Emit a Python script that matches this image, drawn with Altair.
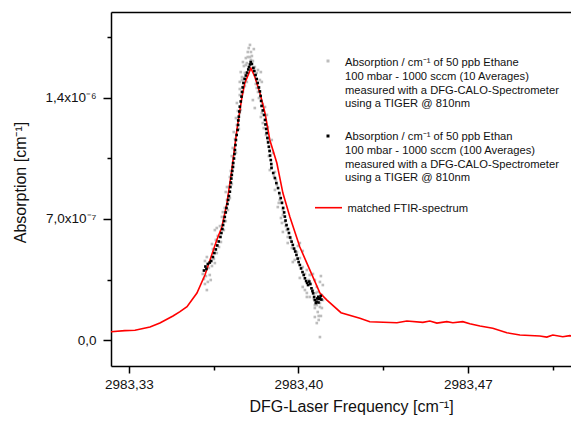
import altair as alt
import pandas as pd

# ---------------- data ----------------
# matched FTIR spectrum: frequency [cm-1], absorption in units of 1e-7 cm-1
ftir_x = [2983.3226, 2983.3283, 2983.3325, 2983.3387, 2983.3428, 2983.3482, 2983.3511, 2983.3540,
          2983.3560, 2983.3581, 2983.3614, 2983.3635, 2983.3663, 2983.3684, 2983.3705, 2983.3725,
          2983.3746, 2983.3767, 2983.3779, 2983.3804, 2983.3820, 2983.3841, 2983.3862, 2983.3882,
          2983.3911, 2983.3936, 2983.3965, 2983.4006, 2983.4035, 2983.4089, 2983.4118, 2983.4176,
          2983.4254, 2983.4295, 2983.4407, 2983.4448, 2983.4514, 2983.4543, 2983.4572, 2983.4613,
          2983.4638, 2983.4679, 2983.4708, 2983.4750, 2983.4803, 2983.4861, 2983.4915, 2983.4997,
          2983.5026, 2983.5051, 2983.5092, 2983.5121, 2983.5163, 2983.5191]
ftir_y_e7 = [0.48, 0.54, 0.56, 0.75, 0.98, 1.39, 1.64, 1.93, 2.31, 2.72, 3.76, 4.63, 5.79, 6.54,
             7.93, 9.84, 12.15, 14.06, 14.87, 15.72, 15.23, 14.29, 13.13, 11.57, 10.24, 8.50,
             7.12, 5.38, 4.45, 2.72, 2.31, 1.58, 1.26, 1.06, 1.00, 1.10, 1.02, 1.10, 0.98, 1.06,
             1.00, 1.06, 0.94, 0.81, 0.68, 0.42, 0.29, 0.23, 0.17, 0.29, 0.19, 0.25, 0.13, 0.16]

# 10 averages (grey)
avg10_x = [2983.3605, 2983.3610, 2983.3614, 2983.3618, 2983.3622, 2983.3626, 2983.3614, 2983.3622,
           2983.3630, 2983.3634, 2983.3638, 2983.3643, 2983.3647, 2983.3651, 2983.3643, 2983.3655,
           2983.3659, 2983.3663, 2983.3667, 2983.3672, 2983.3655, 2983.3663, 2983.3680, 2983.3676,
           2983.3684, 2983.3692, 2983.3688, 2983.3696, 2983.3700, 2983.3705, 2983.3709, 2983.3700,
           2983.3705, 2983.3713, 2983.3717, 2983.3717, 2983.3721, 2983.3725, 2983.3729, 2983.3725,
           2983.3733, 2983.3729, 2983.3738, 2983.3742, 2983.3733, 2983.3746, 2983.3750, 2983.3742,
           2983.3750, 2983.3754, 2983.3758, 2983.3746, 2983.3758, 2983.3758, 2983.3767, 2983.3762,
           2983.3771, 2983.3767, 2983.3758, 2983.3767, 2983.3762, 2983.3771, 2983.3779, 2983.3775,
           2983.3771, 2983.3779, 2983.3787, 2983.3783, 2983.3791, 2983.3791, 2983.3795, 2983.3800,
           2983.3804, 2983.3808, 2983.3804, 2983.3791, 2983.3800, 2983.3812, 2983.3787, 2983.3816,
           2983.3820, 2983.3828, 2983.3833, 2983.3845, 2983.3841, 2983.3849, 2983.3824, 2983.3812,
           2983.3820, 2983.3833, 2983.3849, 2983.3845, 2983.3853, 2983.3862, 2983.3870, 2983.3874,
           2983.3874, 2983.3882, 2983.3890, 2983.3895, 2983.3890, 2983.3882, 2983.3903, 2983.3903,
           2983.3911, 2983.3923, 2983.3923, 2983.3932, 2983.3915, 2983.3936, 2983.3936, 2983.3944,
           2983.3932, 2983.3952, 2983.3936, 2983.3956, 2983.3965, 2983.3956, 2983.3973, 2983.3985,
           2983.3985, 2983.3977, 2983.4006, 2983.4018, 2983.4006, 2983.4018, 2983.4035, 2983.4027,
           2983.4047, 2983.4006, 2983.4018, 2983.4027, 2983.4035, 2983.4047, 2983.4035, 2983.4060,
           2983.4068, 2983.4076, 2983.4089, 2983.4080, 2983.4097, 2983.4076, 2983.4068, 2983.4089,
           2983.4097, 2983.4080, 2983.4068, 2983.4084, 2983.4076, 2983.4089, 2983.4089, 2983.4068,
           2983.4060, 2983.4093, 2983.4101, 2983.4093, 2983.4084, 2983.4101, 2983.4064, 2983.4072,
           2983.4051, 2983.4043, 2983.3994, 2983.3998, 2983.3969, 2983.3948, 2983.3928, 2983.3919,
           2983.3907, 2983.3899, 2983.3878, 2983.3866, 2983.3857, 2983.3853, 2983.3837, 2983.3828,
           2983.3820, 2983.3816, 2983.3783, 2983.3775]
avg10_y_e7 = [3.82, 3.53, 3.24, 3.70, 2.89, 3.36, 4.57, 4.80, 4.17, 3.76, 3.47, 4.28, 5.26, 4.69,
              5.55, 4.45, 5.79, 5.03, 6.02, 5.38, 6.36, 6.48, 5.67, 6.59, 7.12, 6.36, 7.40, 7.64,
              6.88, 8.10, 7.52, 8.56, 8.85, 8.85, 8.21, 9.43, 9.78, 9.02, 10.24, 10.64, 10.01,
              11.11, 11.63, 10.82, 12.03, 12.44, 12.73, 12.84, 13.25, 12.21, 13.13, 13.71, 14.17,
              14.52, 14.17, 13.31, 14.64, 15.04, 14.93, 15.21, 15.50, 14.35, 15.45, 15.85, 16.08,
              14.69, 16.02, 16.31, 16.37, 16.66, 16.89, 17.07, 16.66, 16.43, 16.20, 15.39, 16.37,
              16.14, 14.93, 16.83, 15.79, 15.45, 15.62, 15.50, 15.04, 14.93, 14.81, 13.88, 13.42,
              14.35, 13.13, 12.90, 12.55, 13.48, 13.02, 12.32, 11.57, 10.99, 11.57, 10.82, 10.01,
              9.83, 9.72, 8.68, 8.97, 8.39, 8.10, 7.98, 7.69, 7.52, 7.23, 6.83, 6.77, 6.36, 6.25,
              5.96, 5.96, 5.61, 5.32, 5.21, 4.63, 4.51, 4.74, 5.15, 5.61, 4.22, 4.05, 3.82, 3.76,
              3.59, 3.07, 2.89, 2.72, 2.49, 2.49, 2.89, 3.47, 3.07, 3.36, 2.78, 2.60, 2.02, 1.85,
              2.14, 1.85, 1.62, 1.33, 1.39, 0.98, 0.17, 1.91, 2.02, 3.82, 3.70, 3.18, 1.39, 1.16,
              2.31, 2.37, 2.72, 3.24, 3.47, 5.09, 5.44, 5.79, 6.59, 7.06, 7.93, 9.26, 9.49, 10.64,
              11.86, 12.26, 13.65, 14.00, 14.58, 15.33, 15.74, 15.91, 15.16]

# 100 averages (black)
avg100_x = [2983.3610, 2983.3620, 2983.3616, 2983.3626, 2983.3634, 2983.3640, 2983.3647, 2983.3653,
            2983.3659, 2983.3665, 2983.3671, 2983.3678, 2983.3682, 2983.3686, 2983.3689, 2983.3693,
            2983.3696, 2983.3700, 2983.3703, 2983.3707, 2983.3710, 2983.3713, 2983.3717, 2983.3719,
            2983.3721, 2983.3723, 2983.3725, 2983.3727, 2983.3729, 2983.3731, 2983.3734, 2983.3736,
            2983.3738, 2983.3740, 2983.3742, 2983.3745, 2983.3749, 2983.3751, 2983.3752, 2983.3754,
            2983.3756, 2983.3758, 2983.3762, 2983.3765, 2983.3767, 2983.3770, 2983.3773, 2983.3778,
            2983.3783, 2983.3788, 2983.3793, 2983.3796, 2983.3800, 2983.3803, 2983.3808, 2983.3814,
            2983.3818, 2983.3823, 2983.3828, 2983.3832, 2983.3837, 2983.3841, 2983.3844, 2983.3846,
            2983.3848, 2983.3853, 2983.3858, 2983.3862, 2983.3864, 2983.3867, 2983.3869, 2983.3872,
            2983.3875, 2983.3878, 2983.3881, 2983.3883, 2983.3886, 2983.3888, 2983.3889, 2983.3896,
            2983.3903, 2983.3909, 2983.3916, 2983.3921, 2983.3927, 2983.3932, 2983.3937, 2983.3941,
            2983.3944, 2983.3947, 2983.3951, 2983.3957, 2983.3961, 2983.3966, 2983.3972, 2983.3977,
            2983.3982, 2983.3987, 2983.3992, 2983.3997, 2983.4001, 2983.4006, 2983.4011, 2983.4017,
            2983.4022, 2983.4027, 2983.4032, 2983.4036, 2983.4040, 2983.4045, 2983.4049, 2983.4054,
            2983.4058, 2983.4061, 2983.4065, 2983.4068, 2983.4075, 2983.4078, 2983.4082, 2983.4085,
            2983.4089, 2983.4092, 2983.4095, 2983.4072, 2983.4083]
avg100_y_e7 = [4.02, 4.11, 4.25, 4.40, 4.48, 4.57, 4.80, 5.03, 5.24, 5.47, 5.70, 5.96, 6.19, 6.42,
               6.65, 6.88, 7.12, 7.38, 7.64, 7.87, 8.10, 8.33, 8.58, 8.85, 9.11, 9.34, 9.55, 9.78,
               10.01, 10.24, 10.50, 10.76, 10.99, 11.28, 11.57, 11.86, 12.15, 12.44, 12.70, 12.92,
               13.22, 13.50, 13.80, 14.08, 14.35, 14.61, 14.87, 15.10, 15.30, 15.47, 15.65, 15.79,
               15.94, 16.08, 15.97, 15.74, 15.56, 15.33, 15.10, 14.87, 14.61, 14.38, 14.12, 13.83,
               13.54, 13.28, 13.02, 12.73, 12.47, 12.21, 11.97, 11.69, 11.43, 11.18, 10.93, 10.67,
               10.41, 10.18, 9.95, 9.66, 9.37, 9.08, 8.79, 8.50, 8.21, 7.93, 7.64, 7.38, 7.14, 6.91,
               6.65, 6.42, 6.19, 5.93, 5.69, 5.50, 5.29, 5.12, 4.92, 4.71, 4.51, 4.34, 4.14, 3.93,
               3.76, 3.57, 3.41, 3.30, 3.18, 3.38, 3.24, 2.99, 2.83, 2.70, 2.49, 2.31, 2.22, 2.40,
               2.50, 2.37, 2.41, 2.55, 2.34, 2.14, 2.17]

x_major = [2983.33, 2983.40, 2983.47]
x_minor = [2983.365, 2983.435, 2983.505]
y_major = [0.0, 7.0e-7, 1.4e-6]
y_minor = [3.5e-7, 1.05e-6, 1.75e-6]
x_domain = [2983.3226, 2983.5126]
y_domain = [-1.504e-7, 1.8975e-6]

legend_block1 = ["Absorption / cm⁻¹ of 50 ppb Ethane", "100 mbar - 1000 sccm (10 Averages)",
                 "measured with a DFG-CALO-Spectrometer", "using a TIGER @ 810nm"]
legend_block2 = ["Absorption / cm⁻¹ of 50 ppb Ethan", "100 mbar - 1000 sccm (100 Averages)",
                 "measured with a DFG-CALO-Spectrometer", "using a TIGER @ 810nm"]
legend_line = "matched FTIR-spectrum"

E7 = 1e-7
ftir = pd.DataFrame({"x": ftir_x, "y": [v * E7 for v in ftir_y_e7]})
avg10 = pd.DataFrame({"x": avg10_x, "y": [v * E7 for v in avg10_y_e7]})
avg100 = pd.DataFrame({"x": avg100_x, "y": [v * E7 for v in avg100_y_e7]})
one = pd.DataFrame({"k": [0]})

FONT = "Liberation Sans, Arial, sans-serif"
W, H = 460, 354

xs = alt.Scale(domain=x_domain, nice=False, zero=False)
ys = alt.Scale(domain=y_domain, nice=False, zero=False)

# grey points, carries the minor ticks
grey = alt.Chart(avg10).mark_square(size=7, color="#bdbdbd", opacity=1, clip=True).encode(
    x=alt.X("x:Q", scale=xs, axis=alt.Axis(orient="bottom", values=x_minor, labels=False,
                                           tickSize=4, domain=False, title=None)),
    y=alt.Y("y:Q", scale=ys, axis=alt.Axis(orient="left", values=y_minor, labels=False,
                                           tickSize=4, domain=False, title=None)),
)

# red FTIR line, carries the major axes
red = alt.Chart(ftir).mark_line(color="#ff0000", strokeWidth=1.6, clip=True).encode(
    x=alt.X("x:Q", scale=xs, axis=alt.Axis(
        orient="bottom", values=x_major, tickSize=7, labelPadding=4,
        labelExpr="replace(format(datum.value, '.2f'), '.', ',')",
        title="DFG-Laser Frequency [cm⁻¹]", titleY=45, titleX=240, titleBaseline="alphabetic")),
    y=alt.Y("y:Q", scale=ys, axis=alt.Axis(
        orient="left", values=y_major, tickSize=8, labelPadding=7,
        labelExpr="datum.value == 0 ? '0,0' : (datum.value < 1e-6 ? '7,0x10⁻⁷' : '1,4x10⁻⁶')",
        title="Absorption [cm⁻¹]", titleX=-91, titleY=170, titleAngle=-90,
        titleBaseline="middle")),
)

# black points, carries the top frame line
black = alt.Chart(avg100).mark_square(size=7, color="#000000", opacity=1, clip=True).encode(
    x=alt.X("x:Q", scale=xs, axis=alt.Axis(orient="top", labels=False, ticks=False,
                                           domain=True, title=None)),
    y=alt.Y("y:Q", scale=ys, axis=None),
)

txt = dict(font=FONT, fontSize=11.2, align="left", baseline="alphabetic",
           lineHeight=13.8, color="#111111")

leg_sq1 = alt.Chart(one).mark_square(size=9, color="#bdbdbd", opacity=1).encode(
    x=alt.value(217), y=alt.value(49))
leg_t1 = alt.Chart(one).mark_text(text=legend_block1, **txt).encode(
    x=alt.value(234), y=alt.value(54))
leg_sq2 = alt.Chart(one).mark_square(size=9, color="#000000", opacity=1).encode(
    x=alt.value(217), y=alt.value(124))
leg_t2 = alt.Chart(one).mark_text(text=legend_block2, **txt).encode(
    x=alt.value(234), y=alt.value(128))
leg_rule = alt.Chart(one).mark_rule(color="#ff0000", strokeWidth=1.6).encode(
    x=alt.value(204), x2=alt.value(231), y=alt.value(195.7))
leg_t3 = alt.Chart(one).mark_text(text=legend_line, **txt).encode(
    x=alt.value(236.5), y=alt.value(199.7))

chart = alt.layer(grey, red, black, leg_sq1, leg_t1, leg_sq2, leg_t2, leg_rule, leg_t3).resolve_axis(
    x="independent", y="independent"
).properties(
    width=W, height=H,
    padding={"left": 103, "top": 4, "right": 0, "bottom": 49},
    autosize=alt.AutoSizeParams(type="none"),
).configure_view(stroke=None).configure_axis(
    grid=False, domainColor="#000000", domainWidth=1.5, tickColor="#000000", tickWidth=1.5,
    labelColor="#111111", labelFont=FONT, labelFontSize=13.5, titleFont=FONT,
    titleFontSize=16, titleFontWeight="normal", titleColor="#111111",
)

chart.save("out.html", embed_options={"renderer": "svg", "actions": False})
